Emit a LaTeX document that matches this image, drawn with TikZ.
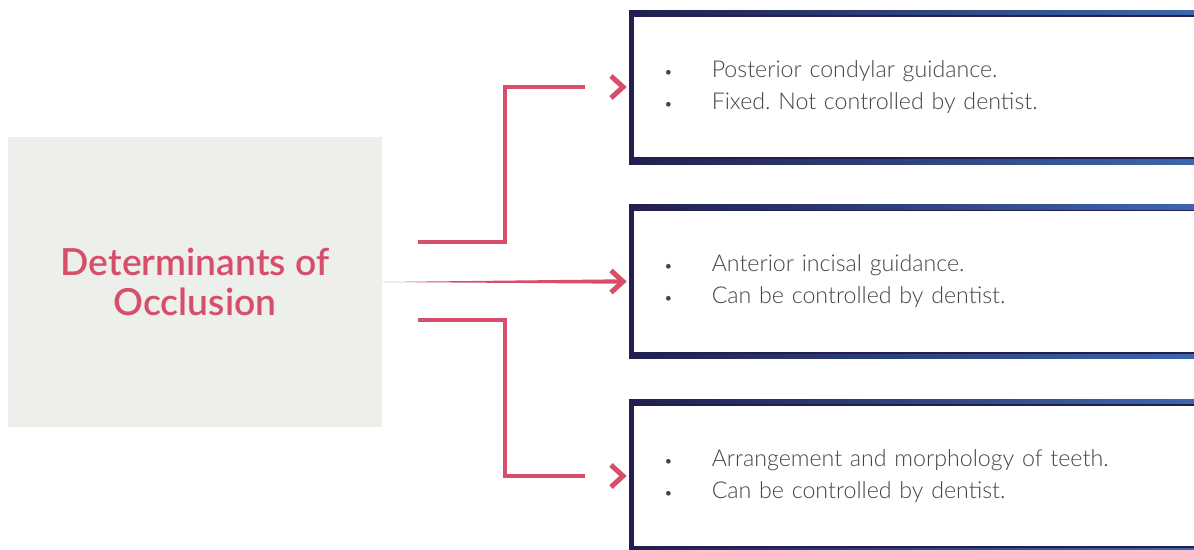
\documentclass[tikz,border=0pt]{standalone}
\usepackage{fontspec}
\setmainfont{Lato}
\newfontfamily\lightface{Lato Light}
\newfontfamily\semiface{Lato Semibold}
\usetikzlibrary{arrows.meta, positioning, calc}
\definecolor{rosy}{HTML}{D64E6A}
\definecolor{navy}{HTML}{221F4F}
\definecolor{steel}{HTML}{3F6DB5}
\definecolor{pale}{HTML}{EDEFEA}
\definecolor{ink}{HTML}{444444}
\newcommand{\dotitem}{\makebox[9.6mm][l]{\small\textbullet}}
\frenchspacing

\begin{document}
\begin{tikzpicture}[
  x=0.2mm, y=-0.2mm,
  root/.style={fill=pale, minimum width=74.8mm, minimum height=58mm, text=rosy, align=center,
    font=\fontsize{21.2}{22.5}\selectfont\semiface},
  card/.style={draw=navy, line width=0.9mm, anchor=west, text width=110mm, minimum height=29mm,
    inner xsep=6.5mm, text=ink, align=left, font=\fontsize{13.2}{18.2}\selectfont\lightface},
  ln/.style={draw=rosy, line width=0.8mm, shorten >=8.8mm},
  chev/.style={draw=rosy, line width=1mm, line join=miter}
]
\clip (0,0) rectangle (1194,549);
\fill[white] (0,0) rectangle (1194,549);

\node[root] (root) at (195,282) {Determinants of\\Occlusion};

\node[card] (b1) at (629,87) {\dotitem Posterior condylar guidance.\\\dotitem Fixed. Not controlled by dentist.};
\node[card] (b2) at (629,281.5) {\dotitem Anterior incisal guidance.\\\dotitem Can be controlled by dentist.};
\node[card] (b3) at (629,476) {\dotitem Arrangement and morphology of teeth.\\\dotitem Can be controlled by dentist.};

% border fades to blue on the right
\foreach \b in {b1,b2,b3}{
  \shade[left color=navy, middle color=navy, right color=steel]
    ($(\b.north west)+(0,-2.25)$) rectangle ($(\b.north east)+(0,2.25)$);
  \shade[left color=navy, middle color=navy, right color=steel]
    ($(\b.south west)+(0,-2.25)$) rectangle ($(\b.south east)+(0,2.25)$);
}

\draw[ln] ($(root.east)+(36,-40)$) -- ++(87,0) |- (b1.west);
\draw[ln] ($(root.east)+(36,38)$) -- ++(87,0) |- (b3.west);
\fill[rosy] (root.east) -- ($(b2.west)+(-8,-2.2)$) -- ($(b2.west)+(-8,2.2)$) -- cycle;

% chevrons in front of the cards
\foreach \b in {b1,b2,b3}
  \draw[chev] ($(\b.west)+(-18,-11)$) -- ($(\b.west)+(-6,0)$) -- ($(\b.west)+(-18,11)$);
\end{tikzpicture}
\end{document}
